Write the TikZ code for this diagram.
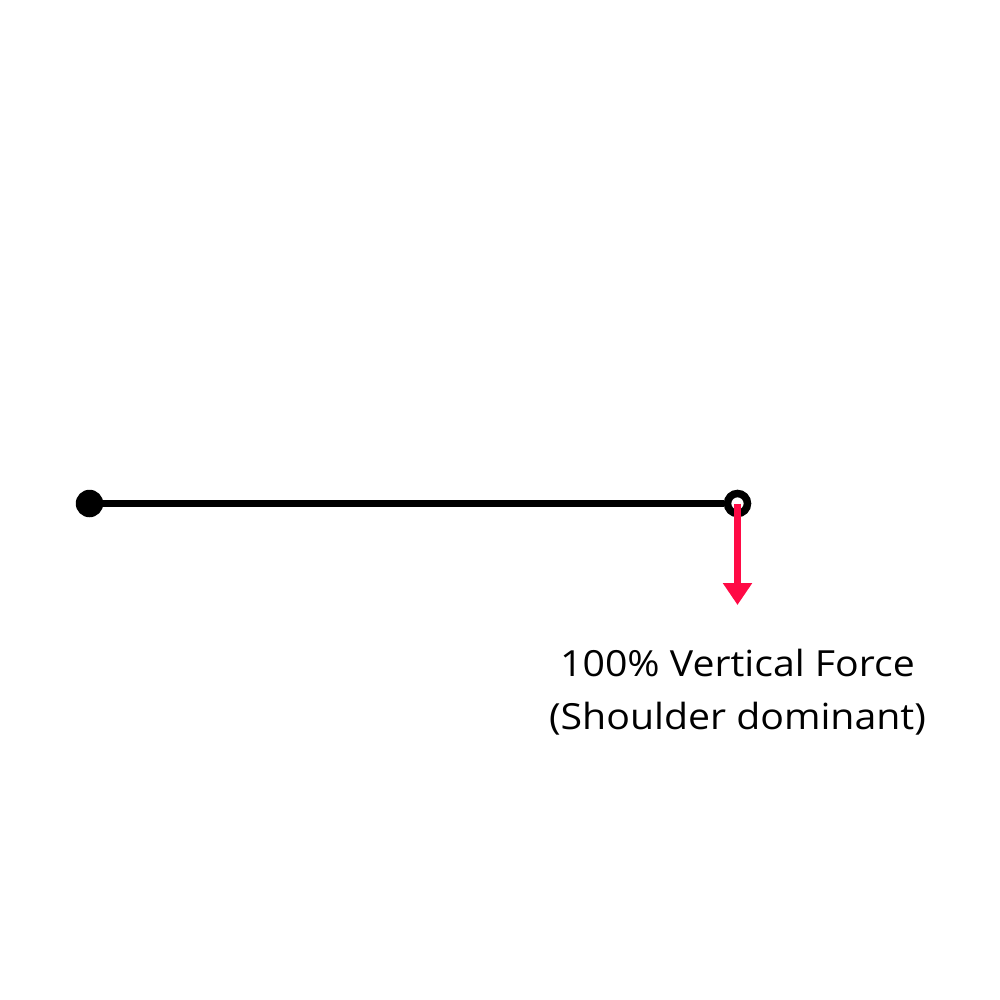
\documentclass[tikz,border=0pt]{standalone}
\usepackage{fontspec}
\setmainfont{Open Sans}[FakeStretch=1.09]
\usetikzlibrary{arrows.meta}
\definecolor{forcered}{HTML}{FF0A45}
\tikzset{
  joint/.style={circle, fill=black, inner sep=0pt, minimum size=27.5pt},
  ringjoint/.style={circle, draw=black, fill=white, line width=7.5pt, inner sep=0pt, minimum size=20pt},
  bar/.style={line width=7pt},
  force/.style={forcered, line width=7pt, -{Triangle[width=28pt,length=22pt]}},
  label/.style={align=center, font=\fontsize{36}{53}\selectfont, inner sep=0pt}
}
\begin{document}
\begin{tikzpicture}[x=1pt,y=-1pt]
  \useasboundingbox (0,0) rectangle (1000,1000);
  \node[joint] (a) at (89.5,503.5) {};
  \node[ringjoint] (b) at (737.5,503.5) {};
  \draw[bar] (a.center) -- (b);
  \coordinate (tip) at (737.5,605);
  \draw[force] (b.center) -- (tip);
  \node[label, anchor=base] (t) at (737.5,729) {100\% Vertical Force\\(Shoulder dominant)};
\end{tikzpicture}
\end{document}
